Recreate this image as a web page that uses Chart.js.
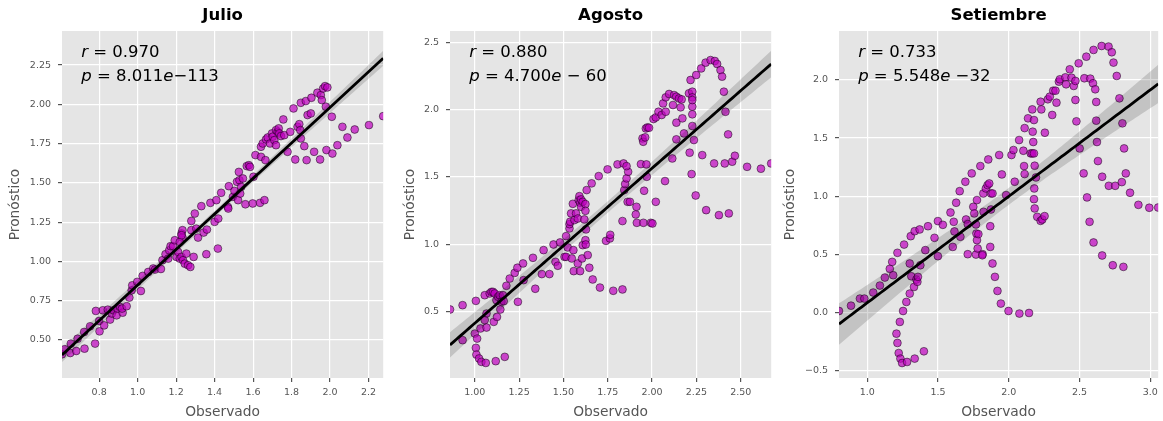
<!DOCTYPE html>
<html lang="es">
<head>
<meta charset="utf-8">
<title>Observado vs Pronóstico</title>
<script src="https://cdn.jsdelivr.net/npm/chart.js@4.4.1/dist/chart.umd.min.js"></script>
<style>
  html, body { margin: 0; padding: 0; background: #fff; }
  .wrap { position: relative; width: 1163px; height: 421px; }
  .panel { position: absolute; top: 0; }
</style>
</head>
<body>
<div class="wrap">
  <canvas id="julio" class="panel" style="left:0" width="388" height="421"></canvas>
  <canvas id="agosto" class="panel" style="left:388px" width="388" height="421"></canvas>
  <canvas id="setiembre" class="panel" style="left:776px" width="387" height="421"></canvas>
</div>
<script>
// Julio: observado vs pronóstico
const julioObs = [0.607,0.621,0.650,0.653,0.681,0.688,0.722,0.724,0.753,0.779,0.783,0.800,0.802,0.819,0.826,0.845,0.857,0.866,0.874,0.891,
  0.895,0.909,0.922,0.919,0.943,0.957,0.969,0.972,0.998,1.017,1.026,1.055,1.081,1.090,1.121,1.129,1.145,1.159,1.164,1.171,
  1.184,1.193,1.202,1.219,1.210,1.228,1.236,1.245,1.253,1.262,1.274,1.279,1.279,1.228,1.233,1.219,1.233,1.228,1.297,1.305,
  1.314,1.291,1.331,1.343,1.357,1.360,1.378,1.400,1.409,1.417,1.419,1.434,1.469,1.471,1.474,1.495,1.503,1.516,1.522,1.526,
  1.529,1.533,1.538,1.547,1.560,1.567,1.578,1.584,1.598,1.602,1.612,1.636,1.641,1.659,1.664,1.641,1.650,1.667,1.676,1.688,
  1.698,1.702,1.710,1.719,1.728,1.733,1.719,1.736,1.745,1.757,1.762,1.779,1.793,1.810,1.819,1.831,1.840,1.845,1.848,1.848,
  1.866,1.874,1.878,1.883,1.900,1.903,1.917,1.934,1.952,1.948,1.957,1.964,1.974,1.986,1.978,1.981,2.009,2.012,2.038,2.064,
  2.090,2.128,2.202,2.276];
const julioPron = [0.409,0.441,0.417,0.477,0.430,0.508,0.551,0.445,0.587,0.477,0.685,0.621,0.555,0.689,0.593,0.693,0.630,0.668,0.689,0.657,
  0.700,0.710,0.674,0.700,0.715,0.770,0.816,0.848,0.870,0.812,0.908,0.933,0.955,0.948,0.952,1.008,1.046,1.018,1.071,1.097,
  1.097,1.135,1.029,1.018,1.061,1.029,1.008,0.986,1.050,0.976,0.965,1.199,1.258,1.178,1.152,1.124,1.199,1.167,1.305,1.209,
  1.152,1.029,1.352,1.184,1.046,1.203,1.373,1.252,1.390,1.082,1.273,1.437,1.347,1.337,1.479,1.411,1.449,1.507,1.390,1.570,
  1.517,1.432,1.475,1.528,1.364,1.607,1.613,1.602,1.369,1.539,1.677,1.373,1.666,1.390,1.645,1.730,1.751,1.777,1.789,1.751,
  1.815,1.794,1.772,1.836,1.825,1.847,1.740,1.815,1.798,1.904,1.804,1.698,1.825,1.974,1.649,1.857,1.874,1.836,2.010,1.783,
  1.734,2.021,1.645,1.932,1.942,2.042,1.698,2.074,2.059,1.649,2.027,2.101,2.116,2.108,1.985,1.709,1.921,1.687,1.740,1.857,
  1.789,1.840,1.868,1.925];

// Agosto
const agostoObs = [0.860,0.931,0.931,1.000,1.006,1.006,1.013,1.009,1.024,1.032,1.037,1.056,1.062,1.066,1.066,1.056,1.084,1.094,1.103,1.107,
  1.112,1.118,1.122,1.125,1.131,1.140,1.144,1.150,1.159,1.169,1.163,1.178,1.197,1.225,1.240,1.243,1.272,1.275,1.328,1.341,
  1.378,1.388,1.421,1.444,1.455,1.468,1.481,1.506,1.515,1.515,1.524,1.534,1.534,1.538,1.543,1.547,1.553,1.556,1.558,1.562,
  1.571,1.581,1.581,1.586,1.590,1.594,1.599,1.594,1.605,1.599,1.609,1.609,1.618,1.624,1.624,1.624,1.626,1.627,1.631,1.637,
  1.646,1.659,1.665,1.699,1.706,1.749,1.740,1.762,1.764,1.781,1.805,1.833,1.833,1.839,1.843,1.848,1.856,1.862,1.865,1.875,
  1.856,1.908,1.914,1.912,1.937,1.946,1.950,1.951,1.955,1.961,1.965,1.970,1.968,1.974,1.983,1.993,2.002,2.008,2.021,2.021,
  2.036,2.054,2.062,2.073,2.077,2.077,2.096,2.118,2.124,2.137,2.114,2.137,2.137,2.152,2.161,2.167,2.171,2.180,2.212,2.208,
  2.217,2.223,2.227,2.227,2.227,2.227,2.227,2.227,2.236,2.246,2.249,2.277,2.283,2.302,2.305,2.330,2.350,2.354,2.367,2.377,
  2.386,2.395,2.405,2.410,2.414,2.429,2.433,2.452,2.467,2.536,2.614,2.672];
const agostoPron = [0.515,0.547,0.287,0.336,0.579,0.230,0.299,0.180,0.151,0.374,0.126,0.621,0.118,0.381,0.485,0.436,0.634,0.646,0.646,0.423,
  0.634,0.131,0.584,0.460,0.609,0.621,0.515,0.572,0.621,0.163,0.577,0.691,0.745,0.787,0.825,0.572,0.857,0.733,0.899,0.669,
  0.778,0.956,0.778,0.998,0.869,0.840,1.013,0.906,0.906,1.060,0.976,1.117,1.149,1.167,1.229,0.894,1.300,0.956,0.800,1.179,
  1.229,0.857,1.191,1.328,1.357,1.308,1.278,0.800,0.894,1.333,1.315,0.993,1.184,1.298,1.248,1.030,0.998,1.110,1.402,0.919,
  0.825,1.452,0.738,1.506,0.678,1.556,1.025,1.043,1.070,0.654,1.593,0.664,1.172,1.600,1.402,1.447,1.489,1.315,1.538,1.315,
  1.580,1.221,1.159,1.278,1.595,1.786,1.761,1.159,1.397,1.794,1.860,1.501,1.593,1.868,1.865,1.159,1.154,1.930,1.315,1.942,
  1.984,1.960,2.046,1.469,2.091,1.984,2.116,2.034,2.108,2.096,1.637,1.903,1.779,2.083,2.017,2.076,1.935,1.823,1.680,2.121,
  2.220,1.521,2.133,2.091,2.022,1.965,1.878,2.071,1.774,1.362,2.257,2.306,1.662,2.349,1.253,2.368,1.600,2.361,2.339,1.216,
  2.294,2.245,2.133,1.600,1.984,1.816,1.229,1.613,1.657,1.575,1.561,1.600];

// Setiembre
const setiembreObs = [0.800,0.885,0.948,0.979,1.042,1.089,1.124,1.159,1.183,1.176,1.213,1.206,1.213,1.222,1.230,1.234,1.246,1.253,1.260,1.276,
  1.281,1.300,1.300,1.307,1.311,1.330,1.335,1.335,1.347,1.354,1.358,1.370,1.375,1.400,1.410,1.429,1.475,1.499,1.534,1.499,
  1.588,1.611,1.604,1.628,1.653,1.658,1.616,1.693,1.710,1.738,1.749,1.756,1.698,1.710,1.768,1.771,1.775,1.768,1.780,1.785,
  1.815,1.799,1.775,1.813,1.820,1.822,1.838,1.850,1.855,1.862,1.874,1.869,1.869,1.885,1.885,1.874,1.902,1.920,1.932,1.944,
  1.951,1.981,1.998,2.019,2.033,2.042,2.073,2.075,2.112,2.103,2.108,2.112,2.155,2.136,2.143,2.166,2.178,2.166,2.169,2.173,
  2.183,2.180,2.178,2.183,2.192,2.201,2.178,2.225,2.230,2.225,2.237,2.253,2.255,2.276,2.307,2.290,2.314,2.330,2.337,2.354,
  2.361,2.400,2.405,2.431,2.443,2.459,2.471,2.471,2.478,2.494,2.501,2.529,2.534,2.548,2.553,2.576,2.571,2.599,2.595,2.599,
  2.611,2.618,2.618,2.623,2.630,2.656,2.660,2.660,2.705,2.707,2.728,2.740,2.735,2.752,2.763,2.782,2.799,2.803,2.810,2.815,
  2.827,2.857,2.916,2.993,3.056];
const setiembrePron = [0.011,0.057,0.118,0.118,0.170,0.230,0.299,0.374,0.319,0.434,0.512,-0.184,-0.264,-0.351,-0.083,-0.399,-0.437,0.011,0.583,0.089,
  -0.428,0.420,0.161,0.655,0.310,0.218,0.698,-0.399,0.282,0.262,0.305,0.713,0.405,-0.336,0.535,0.741,0.641,0.785,0.753,0.483,
  0.859,0.779,0.563,0.943,1.043,0.650,0.696,1.124,0.500,1.196,0.908,0.851,0.799,0.759,0.756,0.678,0.621,0.497,0.549,0.673,
  0.500,1.259,0.966,0.491,1.023,0.865,1.066,1.095,1.316,1.109,1.023,0.563,0.741,1.023,0.420,0.885,0.305,0.184,1.354,0.075,
  1.187,1.009,0.011,1.354,1.397,1.124,1.483,-0.011,1.586,1.391,1.259,1.190,1.368,1.670,-0.006,1.368,1.368,1.747,1.555,1.466,
  1.262,1.066,0.974,0.894,1.161,0.822,1.655,1.813,1.747,0.787,0.799,0.828,1.546,1.834,1.699,1.857,1.908,1.908,1.805,1.986,
  2.006,2.023,1.963,2.092,2.020,1.949,1.992,1.828,1.644,2.144,1.411,1.196,2.015,2.201,0.989,2.012,0.779,2.259,1.972,0.601,
  1.920,1.811,1.650,1.466,1.302,2.293,1.167,0.489,2.288,1.089,2.239,2.150,0.405,1.089,2.035,1.842,1.121,1.627,0.391,1.411,
  1.196,1.029,0.925,0.900,0.902];

// tick positions per panel
const julioTicksX = [0.8, 1.0, 1.2, 1.4, 1.6, 1.8, 2.0, 2.2];
const julioTicksY = [0.50, 0.75, 1.00, 1.25, 1.50, 1.75, 2.00, 2.25];
const agostoTicksX = [1.00, 1.25, 1.50, 1.75, 2.00, 2.25, 2.50];
const agostoTicksY = [0.5, 1.0, 1.5, 2.0, 2.5];
const setiembreTicksX = [1.0, 1.5, 2.0, 2.5, 3.0];
const setiembreTicksY = [-0.5, 0.0, 0.5, 1.0, 1.5, 2.0];

// y limits (include the confidence band plus margin)
const julioYLim = [0.258, 2.467];
const agostoYLim = [0.006, 2.584];
const setiembreYLim = [-0.566, 2.422];

// pearson r and p-value shown on each panel
const statR = ['0.970', '0.880', '0.733'];
const statP = [['8.011', '\u2212113'], ['4.700', ' \u2212 60'], ['5.548', ' \u221232']];

const FONT = '"DejaVu Sans", "Liberation Sans", sans-serif';
const GREY = '#555555';

// least squares line with a 95% confidence band for the mean
function fitLine(xs, ys, n) {
  const N = xs.length;
  const mx = xs.reduce((a, b) => a + b, 0) / N;
  const my = ys.reduce((a, b) => a + b, 0) / N;
  let sxx = 0, sxy = 0;
  for (let i = 0; i < N; i++) {
    sxx += (xs[i] - mx) ** 2;
    sxy += (xs[i] - mx) * (ys[i] - my);
  }
  const b = sxy / sxx, a = my - b * mx;
  let sse = 0;
  for (let i = 0; i < N; i++) sse += (ys[i] - a - b * xs[i]) ** 2;
  const s = Math.sqrt(sse / (N - 2));
  const x0 = Math.min(...xs), x1 = Math.max(...xs);
  const line = [], lo = [], hi = [];
  for (let k = 0; k < n; k++) {
    const x = x0 + (x1 - x0) * k / (n - 1);
    const y = a + b * x;
    const h = 1.97 * s * Math.sqrt(1 / N + (x - mx) ** 2 / sxx);
    line.push({ x, y });
    lo.push({ x, y: y - h });
    hi.push({ x, y: y + h });
  }
  return { line, lo, hi };
}

function drawRuns(ctx, runs, x, y, size) {
  runs.forEach(([text, italic]) => {
    ctx.font = (italic ? 'italic ' : '') + size + 'px ' + FONT;
    ctx.fillText(text, x, y);
    x += ctx.measureText(text).width;
  });
}

const panelText = {
  id: 'panelText',
  beforeDraw(chart) {
    const { ctx, chartArea: a } = chart;
    ctx.save();
    ctx.fillStyle = '#E5E5E5';
    ctx.fillRect(a.left, a.top, a.right - a.left, a.bottom - a.top);
    ctx.restore();
  },
  afterDraw(chart, args, opts) {
    const { ctx, chartArea: a } = chart;
    ctx.save();
    ctx.fillStyle = '#000';
    ctx.textBaseline = 'middle';
    ctx.textAlign = 'center';
    ctx.font = 'bold 16.5px ' + FONT;
    ctx.fillText(opts.title, (a.left + a.right) / 2, 16);
    ctx.textAlign = 'left';
    const w = a.right - a.left, h = a.bottom - a.top;
    const x0 = a.left + 0.06 * w;
    drawRuns(ctx, [['r', true], [' = ' + opts.r, false]], x0, a.top + 0.063 * h, 16.5);
    drawRuns(ctx, [['p', true], [' = ' + opts.p[0], false], ['e', true], [opts.p[1], false]], x0, a.top + 0.132 * h, 16.5);
    ctx.restore();
  }
};

function makePanel(id, p) {
  const fit = fitLine(p.obs, p.pron, 100);
  const pts = p.obs.map((x, i) => ({ x, y: p.pron[i] }));
  const fmt = (v, d) => v.toFixed(d).replace('-', '\u2212');
  new Chart(document.getElementById(id), {
    type: 'scatter',
    data: {
      datasets: [
        { data: pts, order: 3, clip: 0, pointRadius: 3.9,
          pointBackgroundColor: 'rgba(191,0,191,0.7)', pointBorderColor: 'rgba(0,0,0,0.6)', pointBorderWidth: 0.8 },
        { type: 'line', data: fit.lo, order: 2, clip: 0, borderWidth: 0, pointRadius: 0, fill: false },
        { type: 'line', data: fit.hi, order: 2, clip: 0, borderWidth: 0, pointRadius: 0, fill: '-1',
          backgroundColor: 'rgba(0,0,0,0.15)' },
        { type: 'line', data: fit.line, order: 1, clip: 0, borderColor: '#000', borderWidth: 2.8, pointRadius: 0, fill: false }
      ]
    },
    options: {
      responsive: false,
      animation: false,
      events: [],
      layout: { padding: { top: 31, left: 0, right: p.padRight, bottom: 0 } },
      plugins: {
        legend: { display: false },
        tooltip: { enabled: false },
        panelText: { title: p.title, r: p.r, p: p.p }
      },
      scales: {
        x: {
          type: 'linear',
          min: Math.min(...p.obs),
          max: Math.max(...p.obs),
          afterBuildTicks: s => { s.ticks = p.ticksX.map(v => ({ value: v })); },
          afterFit: s => { s.height = 43; s.paddingLeft = 0; s.paddingRight = 0; },
          grid: { color: '#FFFFFF', lineWidth: 1.2, tickColor: GREY, tickLength: 4 },
          border: { display: false },
          ticks: { color: GREY, font: { family: FONT, size: 9.5 }, padding: 5, autoSkip: false, maxRotation: 0,
                   callback: v => fmt(v, p.decX) },
          title: { display: true, text: 'Observado', color: GREY, font: { family: FONT, size: 13.8 },
                   padding: { top: 3.7, bottom: 0 } }
        },
        y: {
          type: 'linear',
          min: p.yLim[0],
          max: p.yLim[1],
          afterBuildTicks: s => { s.ticks = p.ticksY.map(v => ({ value: v })); },
          afterFit: s => { s.width = p.yAxisW; s.paddingTop = 0; s.paddingBottom = 0; },
          grid: { color: '#FFFFFF', lineWidth: 1.2, tickColor: GREY, tickLength: 4 },
          border: { display: false },
          ticks: { color: GREY, font: { family: FONT, size: 9.5 }, padding: 7, autoSkip: false,
                   callback: v => fmt(v, p.decY) },
          title: { display: true, text: 'Pronóstico', color: GREY, font: { family: FONT, size: 13.8 },
                   padding: { top: p.yTitlePad, bottom: 0 } }
        }
      }
    },
    plugins: [panelText]
  });
}

makePanel('julio', {
  title: 'Julio', obs: julioObs, pron: julioPron, ticksX: julioTicksX, ticksY: julioTicksY,
  yLim: julioYLim, decX: 1, decY: 2, r: statR[0], p: statP[0], yAxisW: 62, padRight: 4, yTitlePad: 7.4
});
makePanel('agosto', {
  title: 'Agosto', obs: agostoObs, pron: agostoPron, ticksX: agostoTicksX, ticksY: agostoTicksY,
  yLim: agostoYLim, decX: 2, decY: 1, r: statR[1], p: statP[1], yAxisW: 62, padRight: 3, yTitlePad: 13.7
});
makePanel('setiembre', {
  title: 'Setiembre', obs: setiembreObs, pron: setiembrePron, ticksX: setiembreTicksX, ticksY: setiembreTicksY,
  yLim: setiembreYLim, decX: 1, decY: 1, r: statR[2], p: statP[2], yAxisW: 63, padRight: 3, yTitlePad: 6.4
});
</script>
</body>
</html>
